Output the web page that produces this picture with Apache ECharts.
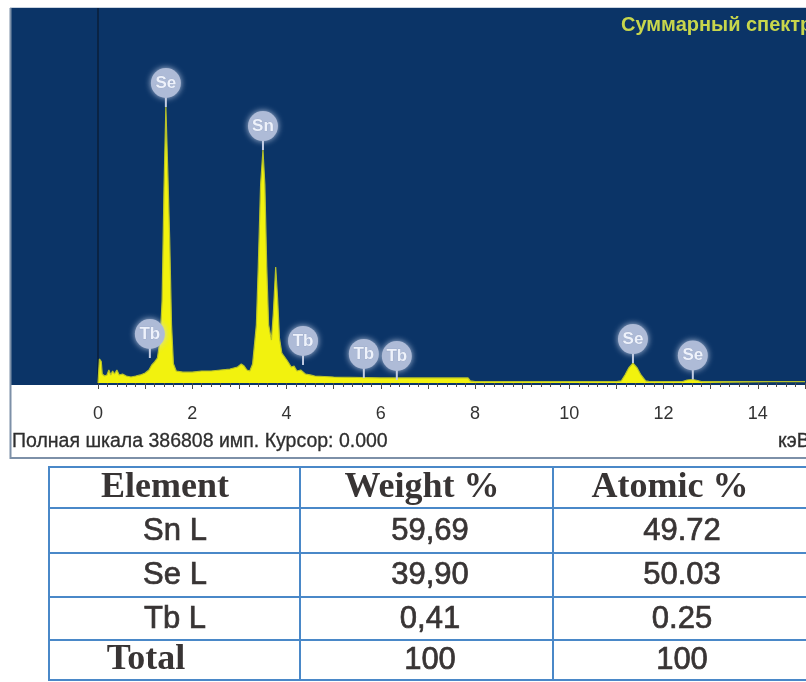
<!DOCTYPE html>
<html>
<head>
<meta charset="utf-8">
<script src="https://cdn.jsdelivr.net/npm/echarts@6/dist/echarts.min.js"></script>
<style>
  html, body { margin: 0; padding: 0; background: #ffffff; }
  #chart { width: 806px; height: 682px; }
</style>
</head>
<body>
<div id="chart"></div>
<script>
// EDS sum spectrum: energy (keV) and counts
const energyKeV = [
  0.00, 0.02, 0.03, 0.07, 0.09, 0.14, 0.19, 0.23, 0.27, 0.31, 0.35, 0.40, 0.45, 0.52, 0.60, 0.70,
  0.80, 0.90, 1.00, 1.08, 1.14, 1.20, 1.26, 1.32, 1.36, 1.40, 1.44, 1.48, 1.52, 1.56, 1.60, 1.66,
  1.80, 2.00, 2.20, 2.40, 2.60, 2.80, 2.96, 3.04, 3.10, 3.16, 3.22, 3.28, 3.36, 3.40, 3.45, 3.50,
  3.54, 3.58, 3.62, 3.68, 3.72, 3.77, 3.81, 3.85, 3.90, 3.96, 4.02, 4.10, 4.16, 4.22, 4.30, 4.40,
  4.50, 4.60, 5.00, 6.00, 7.00, 7.85, 7.90, 8.00, 9.00, 10.00, 11.00, 11.10, 11.18, 11.26, 11.35,
  11.44, 11.52, 11.62, 11.70, 12.40, 12.50, 12.62, 12.72, 12.80, 15.00
];
const counts = [
  0, 0, 24800, 22000, 9300, 7200, 8300, 13400, 8300, 12400, 9300, 13400, 8300, 9300, 7200, 6200,
  7200, 8300, 10300, 13400, 18600, 21700, 25800, 45300, 85000, 200000, 284700, 220000, 150000, 60000, 20000, 12400,
  11300, 11300, 12400, 12400, 13400, 14400, 16500, 19600, 17500, 13400, 12400, 19600, 60000, 120000, 205000, 240300,
  205000, 120000, 60000, 44300, 72200, 119700, 87700, 46400, 30900, 26800, 22700, 16500, 17500, 12400, 13400, 9300,
  8300, 7200, 6200, 5200, 5200, 5200, 2100, 1500, 1500, 1500, 1500, 2100, 8300, 15500, 20600,
  15500, 8300, 2100, 1500, 1500, 3100, 3600, 2600, 1500, 1500
];
const fullScale = 386808;

// Identified lines: element, energy (keV), counts where the marker stem starts
const peakLabels = ['Tb', 'Se', 'Sn', 'Tb', 'Tb', 'Tb', 'Se', 'Se'];
const peakEnergy = [1.10, 1.44, 3.50, 4.35, 5.64, 6.34, 11.35, 12.62];
const peakCounts = [25800, 284700, 240300, 18600, 5200, 3100, 20600, 3600];

// Quantification table
const tableHeader = ['Element', 'Weight %', 'Atomic %'];
const tableElements = ['Sn L', 'Se L', 'Tb L', 'Total'];
const weightPct = ['59,69', '39,90', '0,41', '100'];
const atomicPct = ['49.72', '50.03', '0.25', '100'];

const titleText = 'Суммарный спектр';
const footerText = 'Полная шкала ' + fullScale + ' имп. Курсор: 0.000';
const unitText = 'кэВ';

const chart = echarts.init(document.getElementById('chart'), null, { renderer: 'canvas' });

const SANS = '"Liberation Sans", Arial, sans-serif';
const SERIF = '"Liberation Serif", "Times New Roman", serif';
const tableLine = '#4a88c8';
const textDark = '#383434';

const graphics = [];

// spectrum panel background and frame
graphics.push({
  type: 'rect', z: -10, silent: true,
  shape: { x: 10, y: 8, width: 800, height: 377 },
  style: { fill: '#0b3467' }
});
graphics.push({
  type: 'polyline', z: 10, silent: true,
  shape: { points: [[10.5, 8], [10.5, 458], [806, 458]] },
  style: { stroke: '#7d90a8', lineWidth: 2, fill: null }
});
graphics.push({
  type: 'line', z: 10, silent: true,
  shape: { x1: 10, y1: 7.5, x2: 806, y2: 7.5 },
  style: { stroke: '#c9d3e0', lineWidth: 1 }
});
graphics.push({
  type: 'text', z: 10, silent: true,
  style: { text: titleText, x: 621, y: 25, verticalAlign: 'middle', font: 'bold 20px ' + SANS, fill: '#c8d64c' }
});
graphics.push({
  type: 'text', z: 10, silent: true,
  style: { text: footerText, x: 12, y: 442, verticalAlign: 'middle', font: '19.5px ' + SANS,
           fill: '#2e2e2e', stroke: '#2e2e2e', lineWidth: 0.3 }
});
graphics.push({
  type: 'text', z: 10, silent: true,
  style: { text: unitText, x: 778, y: 442, verticalAlign: 'middle', font: '19.5px ' + SANS,
           fill: '#2e2e2e', stroke: '#2e2e2e', lineWidth: 0.3 }
});

// quantification table grid
const rowLines = [467, 508, 553, 597, 640, 680];
const colLines = [49, 300, 553];
rowLines.forEach(y => graphics.push({
  type: 'line', silent: true,
  shape: { x1: 48, y1: y, x2: 806, y2: y },
  style: { stroke: tableLine, lineWidth: 2 }
}));
colLines.forEach(x => graphics.push({
  type: 'line', silent: true,
  shape: { x1: x, y1: 466, x2: x, y2: 681 },
  style: { stroke: tableLine, lineWidth: 2 }
}));

const headerCenters = [165, 422, 670];
tableHeader.forEach((t, i) => graphics.push({
  type: 'text', silent: true,
  style: { text: t, x: headerCenters[i], y: 488, align: 'center', verticalAlign: 'middle',
           font: 'bold 36px ' + SERIF, fill: textDark }
}));
const rowCenters = [531, 575, 619, 660];
tableElements.forEach((t, r) => {
  const isTotal = r === tableElements.length - 1;
  graphics.push({
    type: 'text', silent: true,
    style: { text: t, x: isTotal ? 146 : 175, y: rowCenters[r], align: 'center', verticalAlign: 'middle',
             font: isTotal ? 'bold 36px ' + SERIF : '31px ' + SANS, fill: textDark,
             stroke: textDark, lineWidth: isTotal ? 0 : 0.7 }
  });
  graphics.push({
    type: 'text', silent: true,
    style: { text: weightPct[r], x: 430, y: rowCenters[r], align: 'center', verticalAlign: 'middle',
             font: '31px ' + SANS, fill: textDark, stroke: textDark, lineWidth: 0.7 }
  });
  graphics.push({
    type: 'text', silent: true,
    style: { text: atomicPct[r], x: 682, y: rowCenters[r], align: 'center', verticalAlign: 'middle',
             font: '31px ' + SANS, fill: textDark, stroke: textDark, lineWidth: 0.7 }
  });
});

const option = {
  animation: false,
  backgroundColor: '#ffffff',
  grid: { left: 98, right: 1, top: 8, bottom: 299 },
  xAxis: {
    type: 'value', min: 0, max: 15, interval: 1,
    axisLine: { show: false },
    axisTick: { show: true, length: 6, lineStyle: { color: '#4a4a4a', width: 1 } },
    minorTick: { show: true, splitNumber: 5, length: 4, lineStyle: { color: '#4a4a4a', width: 1 } },
    axisLabel: {
      formatter: v => (v % 2 === 0 ? String(v) : ''),
      color: '#333333', fontSize: 18, fontFamily: SANS, margin: 22,
      showMinLabel: true, showMaxLabel: false
    },
    splitLine: { show: false },
    minorSplitLine: { show: false }
  },
  yAxis: {
    type: 'value', min: 0, max: fullScale,
    axisLine: { show: true, lineStyle: { color: '#0a2344', width: 2 } },
    axisTick: { show: false },
    axisLabel: { show: false },
    splitLine: { show: false }
  },
  graphic: graphics,
  series: [
    {
      name: 'spectrum',
      type: 'line',
      data: energyKeV.map((e, i) => [e, counts[i]]),
      symbol: 'none',
      lineStyle: { color: '#b8c22a', width: 1.2 },
      areaStyle: { color: '#f2f20e', opacity: 1 },
      z: 3
    },
    {
      name: 'lines',
      type: 'custom',
      data: peakEnergy.map((e, i) => [e, peakCounts[i]]),
      z: 5,
      renderItem: (params, api) => {
        const p = api.coord([api.value(0), api.value(1)]);
        const cy = p[1] - 24;
        return {
          type: 'group',
          children: [
            { type: 'line', shape: { x1: p[0], y1: p[1], x2: p[0], y2: cy },
              style: { stroke: '#c3cde2', lineWidth: 2 } },
            { type: 'circle', shape: { cx: p[0], cy: cy, r: 15 },
              style: { fill: '#aebbd7', shadowBlur: 6, shadowColor: 'rgba(200,210,232,0.9)' } },
            { type: 'text',
              style: { text: peakLabels[params.dataIndex], x: p[0], y: cy, align: 'center',
                       verticalAlign: 'middle', font: 'bold 17px ' + SANS, fill: '#eef2fb',
                       stroke: '#98a6c4', lineWidth: 0.6 } }
          ]
        };
      }
    }
  ]
};

chart.setOption(option);
</script>
</body>
</html>
